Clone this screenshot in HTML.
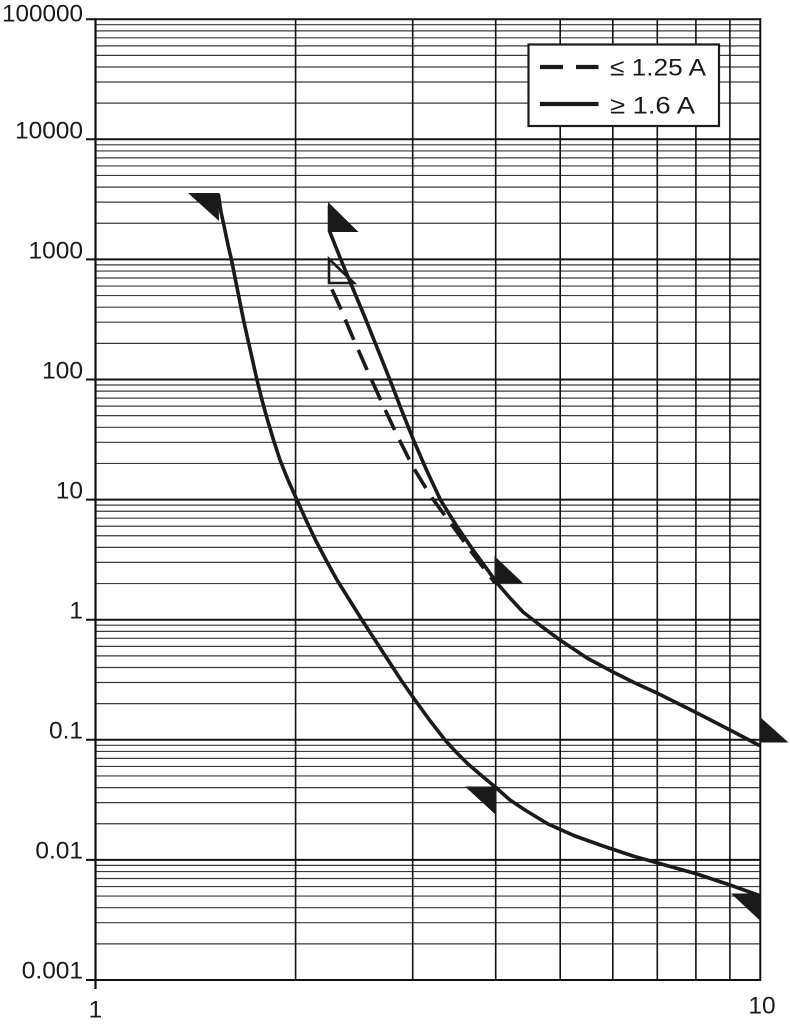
<!DOCTYPE html>
<html>
<head>
<meta charset="utf-8">
<style>
html,body{margin:0;padding:0;background:#fff;}
svg{display:block;}
text{font-family:"Liberation Sans",Arial,sans-serif;fill:#1a1a1a;}
</style>
</head>
<body>
<svg width="790" height="1024" viewBox="0 0 790 1024" xmlns="http://www.w3.org/2000/svg">
<rect x="0" y="0" width="790" height="1024" fill="#fff"/>
<defs>
<g id="dec" stroke="#3a3a3a" stroke-width="1.2">
<line x1="95.5" x2="760.3" y1="-36.15" y2="-36.15"/>
<line x1="95.5" x2="760.3" y1="-57.30" y2="-57.30"/>
<line x1="95.5" x2="760.3" y1="-72.31" y2="-72.31"/>
<line x1="95.5" x2="760.3" y1="-83.95" y2="-83.95"/>
<line x1="95.5" x2="760.3" y1="-93.46" y2="-93.46"/>
<line x1="95.5" x2="760.3" y1="-101.50" y2="-101.50"/>
<line x1="95.5" x2="760.3" y1="-108.46" y2="-108.46"/>
<line x1="95.5" x2="760.3" y1="-114.60" y2="-114.60"/>
</g>
</defs>
<use href="#dec" x="0" y="980"/>
<use href="#dec" x="0" y="859.9"/>
<use href="#dec" x="0" y="739.8"/>
<use href="#dec" x="0" y="619.7"/>
<use href="#dec" x="0" y="499.6"/>
<use href="#dec" x="0" y="379.5"/>
<use href="#dec" x="0" y="259.4"/>
<use href="#dec" x="0" y="139.3"/>
<g stroke="#111" stroke-width="2">
<line x1="86" x2="760.3" y1="980" y2="980"/>
<line x1="86" x2="760.3" y1="859.9" y2="859.9"/>
<line x1="86" x2="760.3" y1="739.8" y2="739.8"/>
<line x1="86" x2="760.3" y1="619.7" y2="619.7"/>
<line x1="86" x2="760.3" y1="499.6" y2="499.6"/>
<line x1="86" x2="760.3" y1="379.5" y2="379.5"/>
<line x1="86" x2="760.3" y1="259.4" y2="259.4"/>
<line x1="86" x2="760.3" y1="139.3" y2="139.3"/>
<line x1="86" x2="761" y1="19.2" y2="19.2"/>
</g>
<g stroke="#111" stroke-width="1.6">
<line x1="295.6" x2="295.6" y1="19.2" y2="980"/>
<line x1="412.7" x2="412.7" y1="19.2" y2="980"/>
<line x1="495.7" x2="495.7" y1="19.2" y2="980"/>
<line x1="560.2" x2="560.2" y1="19.2" y2="980"/>
<line x1="612.8" x2="612.8" y1="19.2" y2="980"/>
<line x1="657.3" x2="657.3" y1="19.2" y2="980"/>
<line x1="695.9" x2="695.9" y1="19.2" y2="980"/>
<line x1="729.9" x2="729.9" y1="19.2" y2="980"/>
</g>
<line x1="760.3" x2="760.3" y1="18.2" y2="981" stroke="#111" stroke-width="2"/>
<line x1="95.5" x2="95.5" y1="18.2" y2="989" stroke="#111" stroke-width="2.2"/>

<g font-size="24" text-anchor="end">
<text x="83" y="21.5" textLength="81" lengthAdjust="spacingAndGlyphs">100000</text>
<text x="83" y="138.5" textLength="68" lengthAdjust="spacingAndGlyphs">10000</text>
<text x="83" y="258.5" textLength="54.5" lengthAdjust="spacingAndGlyphs">1000</text>
<text x="83" y="378.5" textLength="41" lengthAdjust="spacingAndGlyphs">100</text>
<text x="83" y="498.5" textLength="27.2" lengthAdjust="spacingAndGlyphs">10</text>
<text x="83" y="618.5" textLength="13.6" lengthAdjust="spacingAndGlyphs">1</text>
<text x="83" y="738.5" textLength="34" lengthAdjust="spacingAndGlyphs">0.1</text>
<text x="83" y="858.3" textLength="47.6" lengthAdjust="spacingAndGlyphs">0.01</text>
<text x="83" y="978.3" textLength="61.2" lengthAdjust="spacingAndGlyphs">0.001</text>
</g>
<g font-size="24" text-anchor="middle">
<text x="95.5" y="1017.5" textLength="13.6" lengthAdjust="spacingAndGlyphs">1</text>
<text x="762" y="1013.5" textLength="27.2" lengthAdjust="spacingAndGlyphs">10</text>
</g>

<g fill="none" stroke="#1a1a1a" stroke-width="3.6" stroke-linejoin="round" stroke-linecap="round">
<polyline points="218.5,195 221,212 224.5,228 228,245 231.5,260 235.5,280 239.5,300 243.5,320 248,340 252.5,360 257,380 262,400 267.5,420 273.5,440 280,460 288,480 297,500 306,520 315.5,540 326,560 337,580 349.5,600 362,620 375,640 388,660 401,680 415,700 429.5,720 445,740 456,752 468,764 482,776 496.5,788 510,800 525,810 548,824 575,836 603,846 633,856 665,865 697,874 730,885 758,895"/>
<polyline points="329.5,206 329.5,231 341,260 353.5,290 366,320 378,350 390,380 401.5,410 413.5,440 426.5,470 440.5,500 456,525 473,550 485.5,567 497,583 510,598 523,612 541,626 560,640 587,658 613,672 635,683 657,693 697,713 730,730 758.5,745"/>
<polyline stroke-dasharray="22 11" stroke-dashoffset="26" stroke-linecap="butt" points="329,283 340,307 353,338 368,372 382,403 397,435 413,467 432,498 452,525 470,550 495,583"/>
</g>
<polygon points="329,259 354,283 329,283" fill="none" stroke="#1a1a1a" stroke-width="2.6" stroke-linejoin="miter"/>
<g fill="#1a1a1a">
<polygon points="188,193 218.5,193 219,221"/>
<polygon points="328,202 358.5,232 328,232"/>
<polygon points="494.5,556 523.5,583.5 494.5,583.5"/>
<polygon points="759.5,716.5 788.5,742.5 759.5,742.5"/>
<polygon points="465,786.5 496,786.5 496,815"/>
<polygon points="731,893.5 761,893.5 761,921.5"/>
</g>

<rect x="528.5" y="44.5" width="190.5" height="81.5" fill="#fff" stroke="#1a1a1a" stroke-width="2.2"/>
<g stroke="#1a1a1a" stroke-width="4.2">
<line x1="540" x2="563" y1="67" y2="67"/>
<line x1="576" x2="598.5" y1="67" y2="67"/>
<line x1="540" x2="598.5" y1="104" y2="104"/>
</g>
<g font-size="24">
<text x="610" y="75.5" textLength="96" lengthAdjust="spacingAndGlyphs">≤ 1.25 A</text>
<text x="610" y="113.5" textLength="85" lengthAdjust="spacingAndGlyphs">≥ 1.6 A</text>
</g>
</svg>
</body>
</html>
